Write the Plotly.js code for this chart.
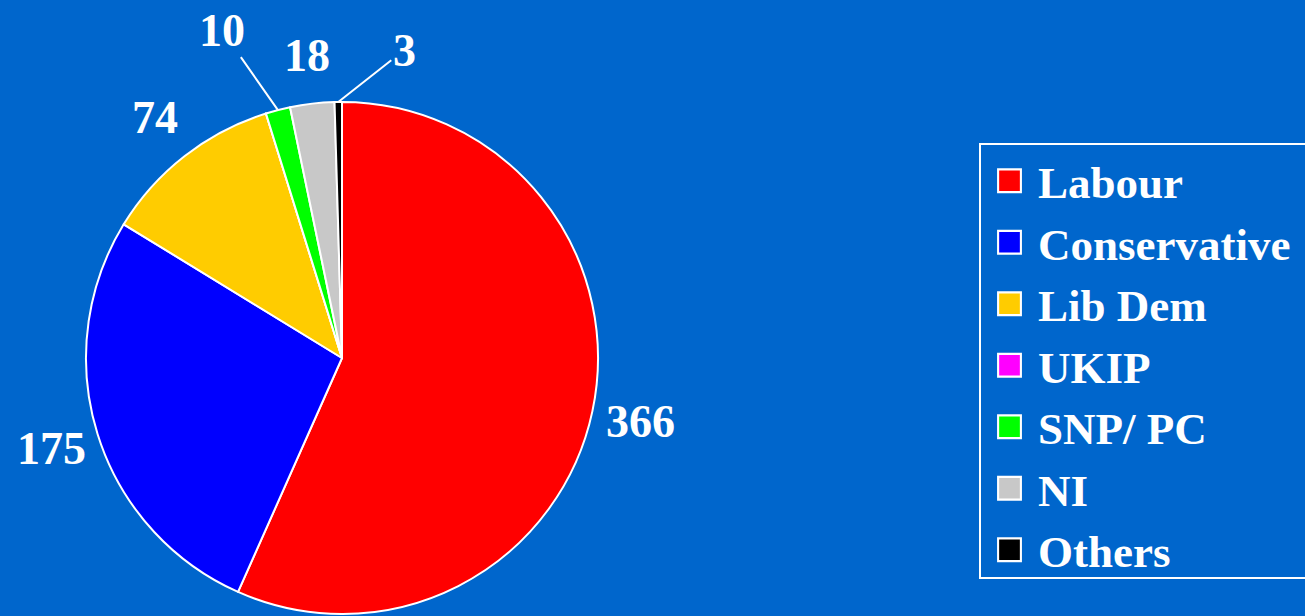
<!DOCTYPE html>
<html>
<head>
<meta charset="utf-8">
<script src="https://cdn.plot.ly/plotly-3.0.1.min.js"></script>
<style>html,body{margin:0;padding:0;background:#0066CC;}#chart{width:1305px;height:616px;}</style>
</head>
<body>
<div id="chart"></div>
<script>
const parties = ["Labour", "Conservative", "Lib Dem", "UKIP", "SNP/ PC", "NI", "Others"];
const seats = [366, 175, 74, 0, 10, 18, 3];
const partyColors = ["#FF0000", "#0000FF", "#FFCC00", "#FF00FF", "#00FF00", "#C8C8C8", "#000000"];

const W = 1305, H = 616;
const FONT = "Liberation Serif, Times New Roman, serif";
const pieDomain = {x: [86/W, 598/W], y: [1 - 614/H, 1 - 102/H]};

// pie geometry in pixels (derived from the domain)
const cx = (pieDomain.x[0] + pieDomain.x[1]) / 2 * W;
const cy = (1 - (pieDomain.y[0] + pieDomain.y[1]) / 2) * H;
const R = Math.min((pieDomain.x[1] - pieDomain.x[0]) * W, (pieDomain.y[1] - pieDomain.y[0]) * H) / 2;
const total = seats.reduce((a, b) => a + b, 0);

// label placement rules: default sits at 1.19R along slice mid-angle; some use leader lines
const leaderOffsets = {"SNP/ PC": [-56, -80], "Others": [66, -52]};

const annotations = [];
let cum = 0;
seats.forEach(function(v, i){
  const mid = (cum + v / 2) / total * 2 * Math.PI; // clockwise from 12 o'clock
  cum += v;
  if (v <= 0) return;
  const sx = Math.sin(mid), sy = -Math.cos(mid);
  const font = {family: FONT, size: 46, color: "#FFFFFF", weight: "bold"};
  const lead = leaderOffsets[parties[i]];
  if (lead) {
    annotations.push({
      xref: "paper", yref: "paper",
      x: (cx + R * sx) / W, y: 1 - (cy + R * sy) / H,
      text: String(v), font: font,
      showarrow: true, arrowhead: 0, arrowwidth: 2, arrowcolor: "#FFFFFF",
      ax: lead[0], ay: lead[1], standoff: 0, startstandoff: 0
    });
  } else {
    const rr = 1.19 * R;
    annotations.push({
      xref: "paper", yref: "paper",
      x: (cx + rr * sx) / W, y: 1 - (cy + rr * sy) / H,
      xanchor: "center", yanchor: "middle",
      text: String(v), font: font, showarrow: false
    });
  }
});

const trace = {
  type: "pie",
  labels: parties,
  values: seats,
  textinfo: "none",
  sort: false,
  direction: "clockwise",
  rotation: 0,
  marker: {colors: partyColors, line: {color: "#FFFFFF", width: 2}},
  domain: pieDomain,
  hoverinfo: "label+value"
};

const layout = {
  width: W,
  height: H,
  paper_bgcolor: "#0066CC",
  plot_bgcolor: "#0066CC",
  margin: {l: 0, r: 0, t: 0, b: 0, autoexpand: false},
  showlegend: true,
  annotations: annotations,
  legend: {
    x: 979/W, xanchor: "left",
    y: 1 - 143/H, yanchor: "top",
    bgcolor: "rgba(0,0,0,0)",
    bordercolor: "#FFFFFF",
    borderwidth: 2,
    font: {family: FONT, size: 45, color: "#FFFFFF", weight: "bold"},
    itemwidth: 47
  }
};

Plotly.newPlot("chart", [trace], layout, {displayModeBar: false, staticPlot: true}).then(function(gd){
  gd.querySelectorAll(".legendpoints path").forEach(function(p){
    const t = p.getAttribute("transform") || "";
    p.setAttribute("transform", t + " scale(1.9)");
    p.style.strokeWidth = "1.1px";
  });
  // the reference's legend frame runs past the right edge of the picture
  gd.querySelectorAll(".legend rect.bg").forEach(function(r){
    const w = parseFloat(r.getAttribute("width")) || 0;
    const h = parseFloat(r.getAttribute("height")) || 0;
    r.setAttribute("width", w + 40);
    r.setAttribute("height", h - 9);
  });
});
</script>
</body>
</html>
